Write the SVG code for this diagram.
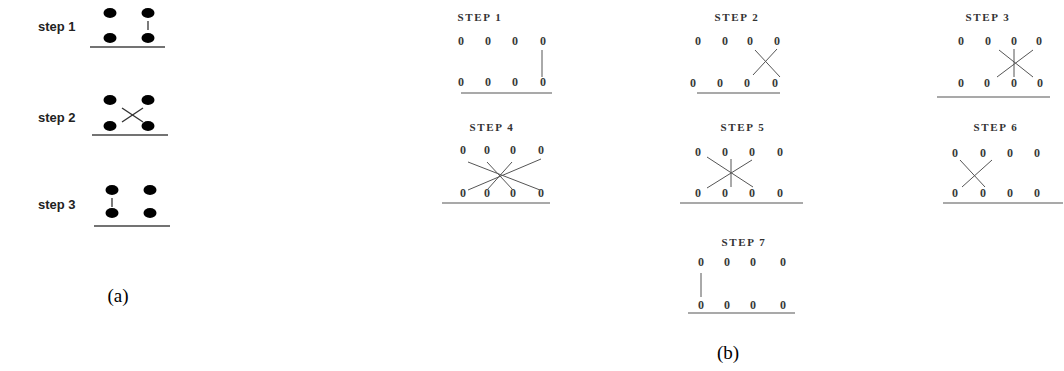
<svg xmlns="http://www.w3.org/2000/svg" width="1064" height="371" viewBox="0 0 1064 371">
<style>
.sa{font-family:"Liberation Sans",Arial,sans-serif;font-weight:bold;font-size:13px;fill:#222}
.sb{font-family:"Liberation Serif",serif;font-weight:bold;font-size:11px;letter-spacing:1.6px;fill:#333;text-anchor:middle}
.o{font-family:"Liberation Serif",serif;font-size:12px;font-weight:bold;fill:#3a3a3a;text-anchor:middle}
.lbl{font-family:"Liberation Serif",serif;font-size:19px;fill:#000;text-anchor:middle}
.dot{fill:#000}
.base{stroke:#444;stroke-width:1.5}
.baseb{stroke:#555;stroke-width:1.2}
.ca{stroke:#333;stroke-width:1.3;fill:none}
.cb{stroke:#555;stroke-width:1;fill:none}
</style>
<rect width="1064" height="371" fill="#fff"/>
<g id="a-step1">
<text class="sa" x="38" y="31">step 1</text>
<ellipse class="dot" cx="110" cy="13" rx="6.5" ry="5"/><ellipse class="dot" cx="148" cy="13" rx="6.5" ry="5"/>
<ellipse class="dot" cx="110" cy="38" rx="6.5" ry="5"/><ellipse class="dot" cx="148" cy="38" rx="6.5" ry="5"/>
<line class="base" x1="90" y1="47" x2="165" y2="47"/>
</g>
<g id="a-step2">
<text class="sa" x="38" y="122">step 2</text>
<ellipse class="dot" cx="110" cy="100" rx="6.5" ry="5"/><ellipse class="dot" cx="148" cy="100" rx="6.5" ry="5"/>
<ellipse class="dot" cx="110" cy="126" rx="6.5" ry="5"/><ellipse class="dot" cx="148" cy="126" rx="6.5" ry="5"/>
<line class="base" x1="92" y1="135" x2="168" y2="135"/>
</g>
<g id="a-step3">
<text class="sa" x="38" y="209">step 3</text>
<ellipse class="dot" cx="112" cy="190" rx="6.5" ry="5"/><ellipse class="dot" cx="150" cy="190" rx="6.5" ry="5"/>
<ellipse class="dot" cx="112" cy="213" rx="6.5" ry="5"/><ellipse class="dot" cx="150" cy="213" rx="6.5" ry="5"/>
<line class="base" x1="94" y1="226" x2="170" y2="226"/>
</g>
<text class="lbl" x="118" y="302">(a)</text>

<g id="b-step1">
<text class="sb" x="480" y="21">STEP 1</text>
<text class="o" y="45"><tspan x="461">0</tspan><tspan x="488">0</tspan><tspan x="515">0</tspan><tspan x="543">0</tspan></text>
<text class="o" y="86"><tspan x="461">0</tspan><tspan x="488">0</tspan><tspan x="515">0</tspan><tspan x="543">0</tspan></text>
<line class="baseb" x1="461" y1="93" x2="552" y2="93"/>
</g>
<g id="b-step2">
<text class="sb" x="737" y="21">STEP 2</text>
<text class="o" y="45"><tspan x="698">0</tspan><tspan x="725">0</tspan><tspan x="750">0</tspan><tspan x="777">0</tspan></text>
<text class="o" y="87"><tspan x="693">0</tspan><tspan x="720">0</tspan><tspan x="747">0</tspan><tspan x="775">0</tspan></text>
<line class="baseb" x1="697" y1="93" x2="780" y2="93"/>
</g>
<g id="b-step3">
<text class="sb" x="988" y="21">STEP 3</text>
<text class="o" y="45"><tspan x="961">0</tspan><tspan x="988">0</tspan><tspan x="1014">0</tspan><tspan x="1039">0</tspan></text>
<text class="o" y="87"><tspan x="961">0</tspan><tspan x="987">0</tspan><tspan x="1014">0</tspan><tspan x="1040">0</tspan></text>
<line class="baseb" x1="937" y1="97" x2="1050" y2="97"/>
</g>
<g id="b-step4">
<text class="sb" x="492" y="131">STEP 4</text>
<text class="o" y="154"><tspan x="463">0</tspan><tspan x="487">0</tspan><tspan x="513">0</tspan><tspan x="541">0</tspan></text>
<text class="o" y="197"><tspan x="463">0</tspan><tspan x="487">0</tspan><tspan x="513">0</tspan><tspan x="541">0</tspan></text>
<line class="baseb" x1="442" y1="203" x2="550" y2="203"/>
</g>
<g id="b-step5">
<text class="sb" x="743" y="131">STEP 5</text>
<text class="o" y="156"><tspan x="698">0</tspan><tspan x="725">0</tspan><tspan x="752">0</tspan><tspan x="780">0</tspan></text>
<text class="o" y="197"><tspan x="698">0</tspan><tspan x="725">0</tspan><tspan x="752">0</tspan><tspan x="780">0</tspan></text>
<line class="baseb" x1="680" y1="203" x2="803" y2="203"/>
</g>
<g id="b-step6">
<text class="sb" x="996" y="131">STEP 6</text>
<text class="o" y="157"><tspan x="955">0</tspan><tspan x="983">0</tspan><tspan x="1010">0</tspan><tspan x="1037">0</tspan></text>
<text class="o" y="197"><tspan x="955">0</tspan><tspan x="983">0</tspan><tspan x="1010">0</tspan><tspan x="1037">0</tspan></text>
<line class="baseb" x1="943" y1="203" x2="1063" y2="203"/>
</g>
<g id="b-step7">
<text class="sb" x="744" y="246">STEP 7</text>
<text class="o" y="266"><tspan x="701">0</tspan><tspan x="727">0</tspan><tspan x="753">0</tspan><tspan x="783">0</tspan></text>
<text class="o" y="309"><tspan x="701">0</tspan><tspan x="727">0</tspan><tspan x="753">0</tspan><tspan x="783">0</tspan></text>
<line class="baseb" x1="688" y1="313" x2="795" y2="313"/>
</g>
<text class="lbl" x="728" y="359">(b)</text>

<g id="connectors">
<line class="ca" x1="148" y1="21" x2="148" y2="30"/>
<line class="ca" x1="122" y1="108" x2="143" y2="122"/>
<line class="ca" x1="122" y1="122" x2="143" y2="108"/>
<line class="ca" x1="112" y1="198" x2="112" y2="207"/>

<line class="cb" x1="542" y1="50" x2="542" y2="77" stroke-width="1.5" stroke="#333"/>
<line class="cb" x1="753" y1="75" x2="777" y2="49"/>
<line class="cb" x1="755" y1="50" x2="780" y2="77"/>
<line class="cb" x1="1014" y1="49" x2="1014" y2="77"/>
<line class="cb" x1="997" y1="77" x2="1033" y2="50"/>
<line class="cb" x1="999" y1="50" x2="1033" y2="77"/>
<line class="cb" x1="468" y1="162" x2="540" y2="190"/>
<line class="cb" x1="541" y1="159" x2="468" y2="190"/>
<line class="cb" x1="487" y1="162" x2="513" y2="190"/>
<line class="cb" x1="512" y1="162" x2="487" y2="190"/>
<line class="cb" x1="731" y1="159" x2="731" y2="187" stroke-width="1.5" stroke="#333"/>
<line class="cb" x1="707" y1="157" x2="753" y2="187"/>
<line class="cb" x1="752" y1="160" x2="707" y2="188"/>
<line class="cb" x1="960" y1="160" x2="985" y2="187"/>
<line class="cb" x1="992" y1="160" x2="962" y2="187"/>
<line class="cb" x1="701" y1="273" x2="701" y2="297" stroke-width="1.5" stroke="#333"/>
</g>
</svg>
